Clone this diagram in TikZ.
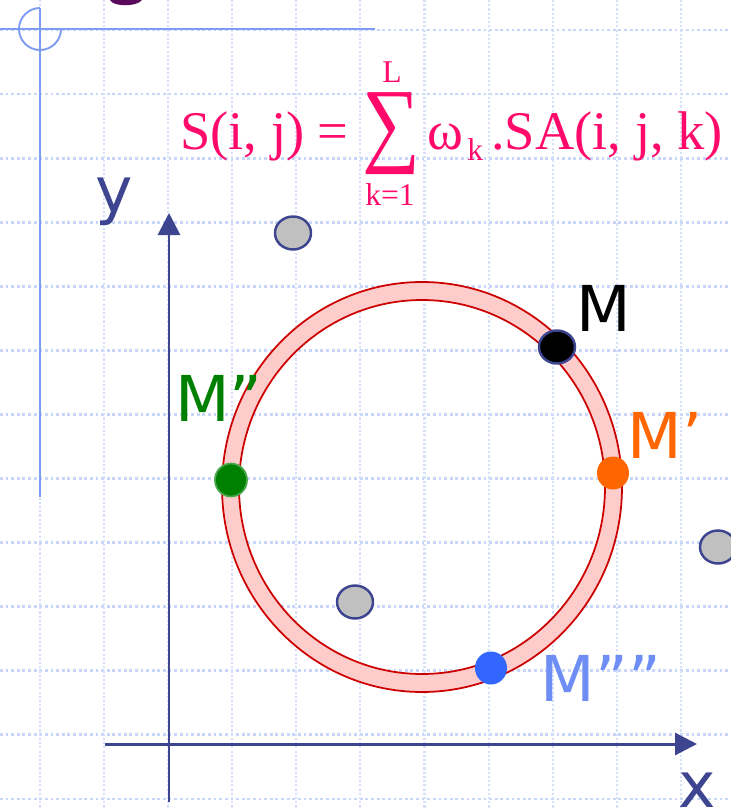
\documentclass[tikz,border=0pt]{standalone}
\usepackage{fontspec}
\setmainfont{Liberation Serif}
\newfontfamily\lblfont{DejaVu Sans}
\usetikzlibrary{arrows.meta,shapes.geometric}
\definecolor{gridblue}{HTML}{C8D6FA}
\definecolor{tplblue}{HTML}{7F9CF5}
\definecolor{axisblue}{HTML}{3D4590}
\definecolor{ringred}{HTML}{CC0000}
\definecolor{ringpink}{HTML}{FFCCCC}
\definecolor{dotgray}{HTML}{C0C0C0}
\definecolor{eqnpink}{HTML}{FF0A6A}
\definecolor{titlepurple}{HTML}{5A0A5A}
\definecolor{morange}{HTML}{FF6600}
\definecolor{mgreen}{HTML}{008000}
\definecolor{mblue}{HTML}{3366FF}
\definecolor{mlight}{HTML}{6E8EF5}
\tikzset{
  gridh/.style={line width=1.6pt, draw=gridblue, dash pattern=on 1.6pt off 1.6pt},
  gridv/.style={line width=1.2pt, draw=gridblue!75, dash pattern=on 1.2pt off 1.2pt},
  tplline/.style={line width=1.1pt, draw=tplblue},
  axis/.style={line width=1.7pt, draw=axisblue, -{Triangle[length=0.44cm,width=0.44cm]}},
  ringline/.style={line width=1pt, draw=ringred},
  ringband/.style={fill=ringpink, even odd rule},
  dot/.style={ellipse, inner sep=0pt, minimum width=0.64cm, minimum height=0.66cm},
  graydot/.style={dot, fill=dotgray, draw=axisblue, line width=1.4pt, minimum width=0.72cm},
  lbl/.style={font=\lblfont\fontsize{36}{40}\selectfont, inner sep=0pt},
  eqn/.style={text=eqnpink, inner sep=0pt, font=\fontsize{31}{35}\selectfont},
  eqnsmall/.style={text=eqnpink, inner sep=0pt, font=\fontsize{18}{20}\selectfont},
}
\begin{document}
\begin{tikzpicture}[x=0.02cm, y=-0.02cm]
\useasboundingbox (0,0) rectangle (731,809);
% grid paper
\foreach \gy in {0,...,12}
  \draw[gridh] (0,{30+64.08*\gy}) -- (731,{30+64.08*\gy});
\foreach \gx in {0,...,11}
  \draw[gridv] ({40+64.08*\gx},0) -- ({40+64.08*\gx},809);
% slide template
\fill[titlepurple] (110,0) .. controls (113,7) and (137,7) .. (142,0) -- cycle;
\draw[tplline] (0,29) -- (375,29);
\draw[tplline] (40,8) -- (40,497);
\draw[tplline] (61,29) arc[start angle=0, end angle=270, radius=21];
% axes
\coordinate (ybot) at (169,802);
\coordinate (ytop) at (169,213);
\coordinate (xbeg) at (105,744);
\coordinate (xend) at (697,744);
\draw[axis] (ybot) -- (ytop);
\draw[axis] (xbeg) -- (xend);
\node[lbl, text=axisblue] (ylab) at (114,202) {y};
\node[lbl, text=axisblue] (xlab) at (697,790) {x};
% ring
\coordinate (ctr) at (422,487);
\path[ringband] (ctr) ellipse [x radius=200, y radius=205] (ctr) ellipse [x radius=183, y radius=187];
\draw[ringline] (ctr) ellipse [x radius=200, y radius=205];
\draw[ringline] (ctr) ellipse [x radius=183, y radius=187];
% points
\node[graydot] (g1) at (293,233) {};
\node[graydot] (g2) at (355,602) {};
\node[graydot] (g3) at (718,547) {};
\node[dot, fill=black, draw=axisblue, line width=1.4pt, minimum width=0.72cm] (m0) at (557,347) {};
\node[dot, fill=morange] (m1) at (613,473) {};
\node[dot, fill=mgreen, draw=mgreen!70!white, line width=1pt] (m2) at (231,480) {};
\node[dot, fill=mblue] (m4) at (491,668) {};
\node[lbl, text=black] (m0lab) at (604,308) {M};
\node[lbl, text=morange] (m1lab) at (665,435) {M’};
\node[lbl, text=mgreen] (m2lab) at (219,398) {M”};
\node[lbl, text=mlight] (m4lab) at (601,678) {M””};
% formula
\node[eqn, anchor=base east] (fs) at (349,149) {S(i, j) =};
\node[text=eqnpink, inner sep=0pt] (fsum) at (391,134) {\resizebox*{1.16cm}{1.64cm}{∑}};
\node[eqnsmall] (fl) at (392,72) {L};
\node[eqnsmall] (fk) at (390,195) {k=1};
\node[eqn, anchor=base west] (fw) at (427,149) {ω};
\node[eqnsmall, anchor=base west] (fwk) at (467,160) {k};
\node[eqn, anchor=base west] (fsa) at (491,149) {.SA(i, j, k)};
\end{tikzpicture}
\end{document}
